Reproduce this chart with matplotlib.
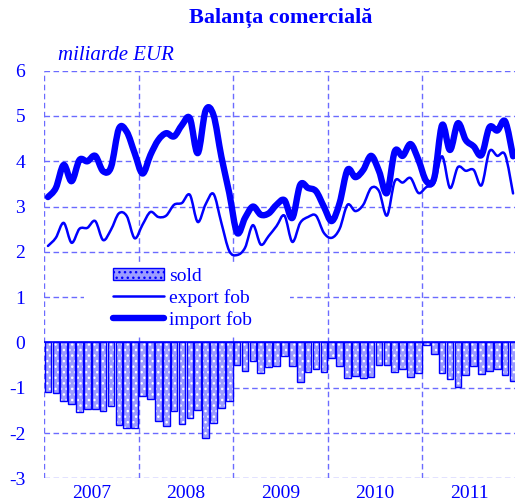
import matplotlib
matplotlib.use("Agg")
import matplotlib.pyplot as plt
from matplotlib.path import Path
from matplotlib.patches import PathPatch, Rectangle
import numpy as np

# ---- data (monthly, Jan 2007 - Dec 2011), billion EUR ----
years = ["2007", "2008", "2009", "2010", "2011"]

export_fob = [2.13, 2.31, 2.64, 2.20, 2.51, 2.53, 2.68, 2.26, 2.49, 2.85, 2.79, 2.30,
              2.60, 2.88, 2.77, 2.80, 3.04, 3.08, 3.26, 2.66, 3.05, 3.28, 2.64, 2.02,
              1.93, 2.09, 2.59, 2.16, 2.35, 2.57, 2.80, 2.22, 2.64, 2.77, 2.80, 2.42,
              2.31, 2.51, 3.04, 2.90, 3.04, 3.41, 3.34, 2.80, 3.56, 3.53, 3.63, 3.30,
              3.43, 3.52, 4.11, 3.41, 3.87, 3.79, 3.81, 3.47, 4.22, 4.12, 4.14, 3.29]

import_fob = [3.21, 3.41, 3.92, 3.56, 4.03, 4.00, 4.12, 3.78, 3.87, 4.72, 4.65, 4.18,
              3.73, 4.14, 4.47, 4.62, 4.55, 4.80, 4.95, 4.18, 5.12, 5.02, 4.10, 3.30,
              2.42, 2.75, 3.00, 2.82, 2.85, 3.04, 3.14, 2.75, 3.48, 3.41, 3.34, 3.00,
              2.68, 3.08, 3.81, 3.65, 3.81, 4.12, 3.78, 3.30, 4.22, 4.12, 4.38, 4.03,
              3.56, 3.63, 4.80, 4.25, 4.84, 4.47, 4.33, 4.14, 4.75, 4.68, 4.88, 4.11]

sold = [-1.10, -1.12, -1.29, -1.35, -1.54, -1.47, -1.47, -1.51, -1.40, -1.82, -1.90, -1.88,
        -1.18, -1.26, -1.73, -1.84, -1.51, -1.79, -1.67, -1.50, -2.11, -1.77, -1.45, -1.30,
        -0.49, -0.63, -0.42, -0.68, -0.54, -0.51, -0.29, -0.51, -0.88, -0.66, -0.59, -0.66,
        -0.35, -0.51, -0.79, -0.74, -0.79, -0.76, -0.49, -0.49, -0.66, -0.59, -0.76, -0.68,
        -0.05, -0.25, -0.68, -0.81, -0.99, -0.71, -0.51, -0.70, -0.62, -0.59, -0.71, -0.85]

BLUE = "#0000ff"
GRID = "#6b6bff"
BARFACE = "#9c9cff"
plt.rcParams["font.family"] = ["Liberation Serif", "DejaVu Serif"]

fig = plt.figure(figsize=(5.15, 5.04), dpi=100)
ax = fig.add_axes([44 / 515, (504 - 478.3) / 504, 473 / 515, 407.6 / 504])

n = len(sold)
x = np.arange(n) + 0.5


def smooth_path(xs, ys):
    xs = np.asarray(xs, float)
    ys = np.asarray(ys, float)
    pts = np.column_stack([xs, ys])
    verts = [pts[0]]
    codes = [Path.MOVETO]
    m = len(pts)
    for i in range(m - 1):
        p0 = pts[i - 1] if i > 0 else pts[i]
        p1 = pts[i]
        p2 = pts[i + 1]
        p3 = pts[i + 2] if i + 2 < m else pts[i + 1]
        c1 = p1 + (p2 - p0) / 6.0
        c2 = p2 - (p3 - p1) / 6.0
        verts += [c1, c2, p2]
        codes += [Path.CURVE4] * 3
    return Path(verts, codes)


# grid (dashed), drawn manually
for yv in range(-3, 7):
    if yv == 0:
        continue
    ax.axhline(yv, color=GRID, lw=1.0, ls=(0, (4, 2.5)), zorder=0.5)
for k in range(0, 6):
    ax.axvline(12 * k, color=GRID, lw=1.0, ls=(0, (4, 2.5)), zorder=0.5)

# white box behind the legend
ax.add_patch(Rectangle(((84 - 44) / 473, (478.3 - 337) / 407.6),
                       (290 - 84) / 473, (337 - 263) / 407.6,
                       transform=ax.transAxes, facecolor="white", edgecolor="none",
                       zorder=1))

# bars
ax.bar(x, sold, width=0.84, color=BARFACE, edgecolor="white", hatch="...",
       linewidth=0, zorder=2)
ax.bar(x, sold, width=0.84, fill=False, edgecolor=BLUE, linewidth=1.0, zorder=2.1)
ax.axhline(0, color=BLUE, lw=1.2, zorder=2.2)

# lines
pe = PathPatch(smooth_path(x, export_fob), fill=False, edgecolor=BLUE, lw=1.8,
               capstyle="round", joinstyle="round", zorder=3)
pi = PathPatch(smooth_path(x, import_fob), fill=False, edgecolor=BLUE, lw=4.6,
               capstyle="round", joinstyle="round", zorder=3)
ax.add_patch(pe)
ax.add_patch(pi)

ax.set_xlim(0, 60)
ax.set_ylim(-3, 6)
for s in ax.spines.values():
    s.set_visible(False)

ax.set_yticks(range(-3, 7))
ax.set_yticklabels([str(v) for v in range(-3, 7)])
ax.tick_params(axis="y", length=0, pad=13.5, labelsize=14, labelcolor=BLUE)
ax.set_xticks([6, 18, 30, 42, 54])
ax.set_xticklabels(years)
ax.tick_params(axis="x", length=0, pad=5, labelsize=14, labelcolor=BLUE)

# legend
from matplotlib.lines import Line2D
from matplotlib.patches import Patch
handles = [Patch(facecolor=BARFACE, edgecolor=BLUE, hatch="...", linewidth=1.0),
           Line2D([], [], color=BLUE, lw=1.8, solid_capstyle="round"),
           Line2D([], [], color=BLUE, lw=4.6, solid_capstyle="round")]
leg = ax.legend(handles, ["sold", "export fob", "import fob"], loc="upper left",
                bbox_to_anchor=((113 - 44) / 473, (478.3 - 268) / 407.6),
                frameon=False, borderpad=0, borderaxespad=0, fontsize=14,
                handlelength=2.6, handleheight=0.6, handletextpad=0.3,
                labelspacing=0.2)
for t in leg.get_texts():
    t.set_color(BLUE)
leg.set_zorder(5)

fig.text(281 / 515, 1 - 18 / 504, "Balanța comercială", ha="center", va="center",
         fontsize=16, fontweight="bold", color=BLUE)
fig.text(58 / 515, 1 - 55 / 504, "miliarde EUR", ha="left", va="center",
         fontsize=15, style="italic", color=BLUE)

fig.savefig("out.png", dpi=100)
